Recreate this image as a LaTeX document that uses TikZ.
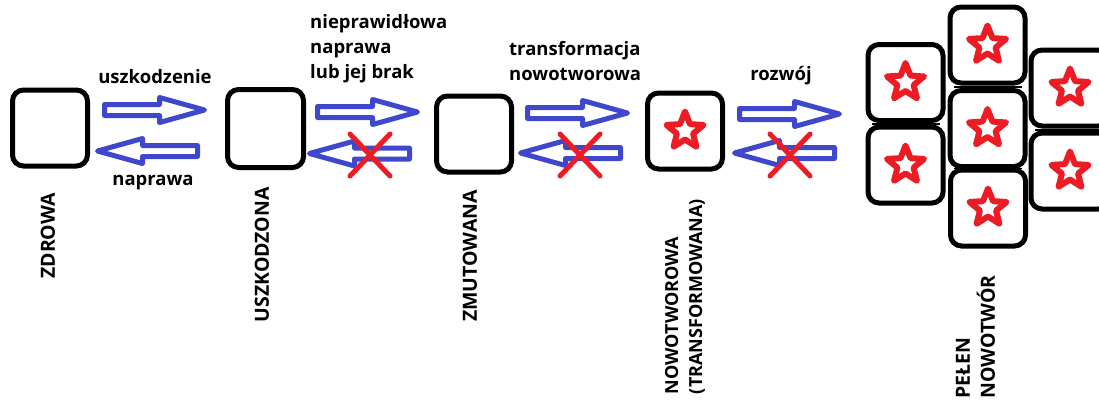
\documentclass[tikz,border=0pt]{standalone}
\usepackage{fontspec}
\setmainfont{Open Sans}
\definecolor{arrblue}{HTML}{3F48CC}
\definecolor{xred}{HTML}{ED1C24}
\begin{document}
\begin{tikzpicture}[x=1pt,y=-1pt,
  cell/.style={draw, line width=5pt, rounded corners=11pt, fill=white,
    minimum width=75pt, minimum height=76pt, inner sep=0pt},
  lbl/.style={font=\fontsize{18.5}{25}\selectfont\bfseries, inner sep=0pt, text=black},
  vlbl/.style={font=\fontsize{19.5}{25}\selectfont\bfseries, inner sep=0pt, text=black,
    rotate=90, anchor=east, align=left},
  pics/blockarrow/.style={code={
    \draw[arrblue, line width=5pt, line join=round, fill=white]
      (0,-5.5) -- (55,-5.5) -- (55,-12.5) -- (100,0) -- (55,12.5) -- (55,5.5) -- (0,5.5) -- cycle;}},
  pics/redcross/.style={code={
    \draw[xred, line width=5pt, line cap=round] (-20,-21) -- (20,21) (-20,21) -- (20,-21);}},
  pics/redstar/.style={code={
    \draw[xred, line width=6pt, line join=round, fill=white]
      (-90:19.5) -- (-54:8.5) -- (-18:19.5) -- (18:8.5) -- (54:19.5) -- (90:8.5)
      -- (126:19.5) -- (162:8.5) -- (198:19.5) -- (234:8.5) -- cycle;}}
]
\fill[white] (0,0) rectangle (1099,399);
\useasboundingbox (0,0) rectangle (1099,399);

% single cells
\node[cell] (zdrowa) at (50,128) {};
\node[cell, minimum width=76pt, minimum height=78pt] (uszk) at (265.5,128.5) {};
\node[cell] (zmut) at (474,134) {};
\node[cell] (nowo) at (685,131) {};
\pic at (nowo.center) {redstar};

% tumour cluster
\node[cell] (tc) at (987.5,45) {};
\node[cell] (lu) at (905.5,82.5) {};
\node[cell] (ll) at (905.5,165) {};
\node[cell] (cm) at (987.5,128.5) {};
\node[cell] (cb) at (988,208) {};
\node[cell, minimum width=78pt] (ru) at (1070,88) {};
\node[cell, minimum width=78pt] (rl) at (1070,171) {};
\fill ([xshift=6pt]tc.south west) rectangle ([xshift=-6pt]cm.north east);
\fill ([xshift=6pt]cm.south west) rectangle ([xshift=-6pt]cb.north east);
\fill ([xshift=6pt]lu.south west) rectangle ([xshift=-6pt]ll.north east);
\fill ([xshift=6pt]ru.south west) rectangle ([xshift=-6pt]rl.north east);
\foreach \c in {tc,lu,ll,cm,cb,ru,rl} {\pic at (\c.center) {redstar};}

% arrows
\pic (ra1) at (104.5,110) {blockarrow};
\pic[xscale=-1] (la1) at (197.5,151) {blockarrow};
\pic (ra2) at (317.5,112) {blockarrow};
\pic[xscale=-1] (la2) at (409.5,153.5) {blockarrow};
\pic (ra3) at (527.5,113) {blockarrow};
\pic[xscale=-1] (la3) at (620.5,153) {blockarrow};
\pic (ra4) at (739.5,114) {blockarrow};
\pic[xscale=-1] (la4) at (834.5,153) {blockarrow};
\pic (x2) at (370,155) {redcross};
\pic (x3) at (580,155) {redcross};
\pic (x4) at (790,155) {redcross};

% labels
\node[lbl, anchor=base] (t1) at (155,83) {uszkodzenie};
\node[lbl, anchor=base] (t2) at (153,185) {naprawa};
\node[lbl, anchor=north west, align=left] (t3) at (310,14) {nieprawidłowa\\naprawa\\lub jej brak};
\node[lbl, anchor=north west, align=left] (t4) at (509,41) {transformacja\\nowotworowa};
\node[lbl, anchor=base] (t5) at (781,80) {rozwój};

\node[vlbl] (v1) at (48,193) {ZDROWA};
\node[vlbl] (v2) at (262,187) {USZKODZONA};
\node[vlbl] (v3) at (470,190) {ZMUTOWANA};
\node[vlbl, font=\fontsize{18}{24}\selectfont\bfseries] (v4) at (685,199) {NOWOTWOROWA\\(TRANSFORMOWANA)};
\node[vlbl] (v5) at (975.5,275) {PEŁEN\\NOWOTWÓR};
\end{tikzpicture}
\end{document}
